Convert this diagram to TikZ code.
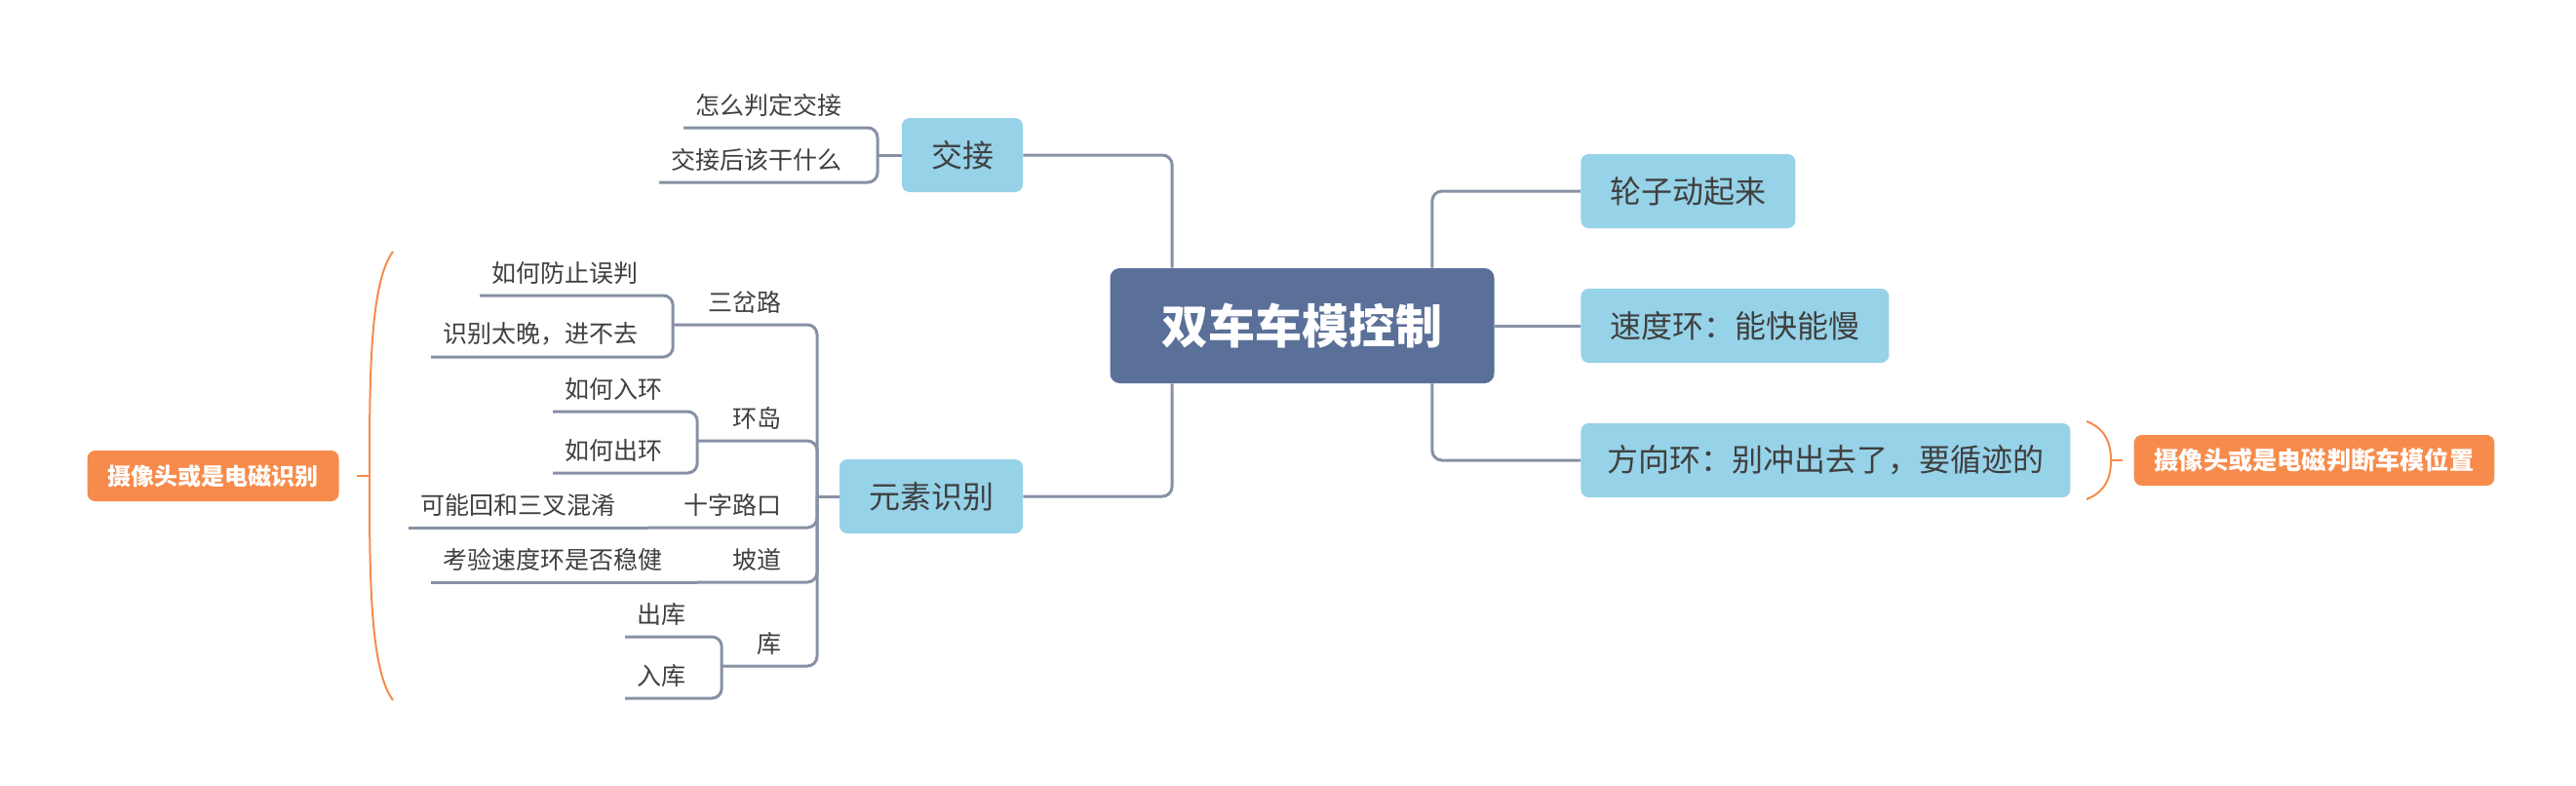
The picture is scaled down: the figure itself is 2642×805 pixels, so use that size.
\documentclass[tikz,border=0pt]{standalone}
\usepackage{fontspec}
\setmainfont{Noto Sans CJK SC}
\usepackage{tikz}

\definecolor{rootblue}{HTML}{5A7098}
\definecolor{topicblue}{HTML}{96D2E8}
\definecolor{linegray}{HTML}{8791A5}
\definecolor{noteorange}{HTML}{F78B4B}
\definecolor{textgray}{HTML}{3F3F3F}

\begin{document}
\begin{tikzpicture}[x=0.5pt, y=-0.5pt,
	root/.style={fill=rootblue, text=white, rounded corners=5pt, font=\fontsize{24}{29}\selectfont\bfseries, minimum width=197pt, minimum height=59pt},
	topic/.style={fill=topicblue, text=textgray, rounded corners=4pt, font=\fontsize{16}{19}\selectfont, inner xsep=15pt, minimum height=38pt},
	note/.style={fill=noteorange, text=white, rounded corners=4pt, inner xsep=10.5pt, minimum height=26pt},
	sub/.style={text=textgray, font=\fontsize{12.5}{15}\selectfont, inner xsep=6pt, inner ysep=5.5pt, anchor=south east},
	subhead/.style={sub, inner xsep=18pt},
	link/.style={draw=linegray, line width=1.5pt, rounded corners=5pt},
	brace/.style={draw=noteorange, line width=1pt}]

	\useasboundingbox (0,0) rectangle (2642,805);

% draw main topics
	\node[root] (root) at (1335.5,334) {双车车模控制};
	\node[topic] (jiaojie) at (987,159) {交接};
	\node[topic] (yuansu) at (955,509) {元素识别};
	\node[topic, anchor=west] (lunzi) at (1621,196) {轮子动起来};
	\node[topic, anchor=west] (sudu) at (1621,334) {速度环：能快能慢};
	\node[topic, anchor=west, inner xsep=13.5pt] (fangxiang) at (1621,472) {方向环：别冲出去了，要循迹的};

% notes
	\node[note, font=\fontsize{12}{14}\selectfont\bfseries] (noteL) at (218.5,488) {摄像头或是电磁识别};
	\node[note, font=\fontsize{12.6}{15}\selectfont\bfseries] (noteR) at (2373.5,472) {摄像头或是电磁判断车模位置};

% sub topics of jiaojie
	\coordinate (jjx) at (900,159);
	\node[sub] (jj1) at (876,131) {怎么判定交接};
	\node[sub] (jj2) at (876,187) {交接后该干什么};

% sub topics of yuansu
	\coordinate (hub) at (838,509);
	\node[subhead] (sc) at (838,333) {三岔路};
	\node[sub] (sc1) at (667,303) {如何防止误判};
	\node[sub] (sc2) at (667,366) {识别太晚，进不去};

	\node[subhead] (hd) at (838,452) {环岛};
	\node[sub] (hd1) at (692,422) {如何入环};
	\node[sub] (hd2) at (692,485) {如何出环};

	\node[subhead] (sz) at (838,541) {十字路口};
	\node[sub] (sz1) at (644,541) {可能回和三叉混淆};

	\node[subhead] (pd) at (838,597) {坡道};
	\node[sub] (pd1) at (692,597) {考验速度环是否稳健};

	\node[subhead] (ku) at (838,683) {库};
	\node[sub] (ku1) at (716,653) {出库};
	\node[sub] (ku2) at (716,716) {入库};

% connect root
	\draw[link] ([xshift=32pt]root.north west) |- (jiaojie.east);
	\draw[link] ([xshift=32pt]root.south west) |- (yuansu.east);
	\draw[link] ([xshift=-32pt]root.north east) |- (lunzi.west);
	\draw[link] (root.east) -- (sudu.west);
	\draw[link] ([xshift=-32pt]root.south east) |- (fangxiang.west);

% connect jiaojie
	\draw[link] (jiaojie.west) -- (jjx);
	\draw[link] (jj1.south west) -| (jjx) |- (jj2.south west);

% connect yuansu
	\draw[link] (yuansu.west) -- (hub);
	\foreach \s in {sc, hd, sz, pd, ku}
		\draw[link] (hub) |- (\s.south west);
	\draw[link] (sc1.south west) -| (sc.south west) |- (sc2.south west);
	\draw[link] (hd1.south west) -| (hd.south west) |- (hd2.south west);
	\draw[link] (sz1.south west) -- (sz.south west);
	\draw[link] (pd1.south west) -- (pd.south west);
	\draw[link] (ku1.south west) -| (ku.south west) |- (ku2.south west);

% braces
	\draw[brace] (403,258) .. controls (379,290) and (379,390) .. (379,488)
		.. controls (379,586) and (379,686) .. (403,718);
	\draw[brace] (379,488) -- (366,488);
	\draw[brace] (2140,432) .. controls (2160,440) and (2165,455) .. (2165,472)
		.. controls (2165,489) and (2160,504) .. (2140,512);
	\draw[brace] (2165,472) -- (2177,472);

\end{tikzpicture}
\end{document}
